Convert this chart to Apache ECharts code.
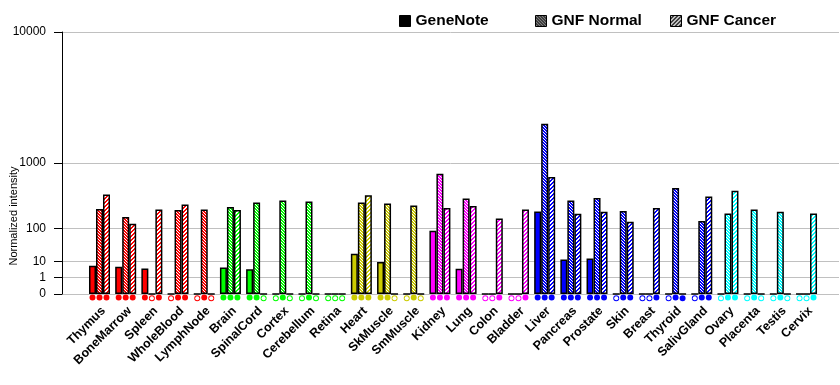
<!DOCTYPE html>
<html><head><meta charset="utf-8">
<script src="https://cdn.jsdelivr.net/npm/echarts@6/dist/echarts.min.js"></script>
<style>html,body{margin:0;padding:0;background:#fff}#c{width:840px;height:385px}</style>
</head><body><div id="c"></div>
<script>
// ---- data ----
const categories = ['Thymus','BoneMarrow','Spleen','WholeBlood','LymphNode','Brain','SpinalCord','Cortex','Cerebellum','Retina','Heart','SkMuscle','SmMuscle','Kidney','Lung','Colon','Bladder','Liver','Pancreas','Prostate','Skin','Breast','Thyroid','SalivGland','Ovary','Placenta','Testis','Cervix'];
const tissueGroup = ['hem','hem','hem','hem','hem','neu','neu','neu','neu','neu','mus','mus','mus','mag','mag','mag','mag','gla','gla','gla','gla','gla','gla','gla','rep','rep','rep','rep'];
const seriesNames = ['GeneNote','GNF Normal','GNF Cancer'];
const geneNote  = [6.1,5.4,4.4,0,0,5.0,3.9,0,0,0,20,9.2,0,89,4.2,0,0,215,12,13,0,0,0,0,0,0,0,0];
const gnfNormal = [238,172,0,228,232,257,303,325,314,0,303,292,272,755,349,0,0,2390,325,356,220,0,495,144,198,232,212,0];
const gnfCancer = [401,126,232,282,0,228,0,0,0,0,392,0,0,248,267,160,232,686,196,212,138,248,0,375,455,0,0,198];
const presentGeneNote  = [1,1,1,0,0,1,1,0,0,0,1,1,0,1,1,0,0,1,1,1,0,0,0,0,0,0,0,0];
const presentGnfNormal = [1,1,0,1,1,1,1,1,1,0,1,1,1,1,1,0,0,1,1,1,1,0,1,1,1,1,1,0];
const presentGnfCancer = [1,1,1,1,0,1,0,0,0,0,1,0,0,1,1,1,1,1,1,1,1,1,1,1,1,0,0,1];
const yTickLabels = [0,1,10,100,1000,10000];

// ---- styles ----
const groupColor = {hem:'#ff0000',neu:'#00ff00',mus:'#cccc00',mag:'#ff00ff',gla:'#0000ff',rep:'#00ffff'};
const EXP = Math.log10(2);             // axis scale: height ~ value^log10(2)
const T = v => Math.pow(v, EXP);
const Tinv = t => Math.round(Math.pow(t, 1/EXP));
const FONT = 'Arial, "Liberation Sans", sans-serif';

function hatch(color, kind){
  const n = kind==='normal' ? 3 : 4;
  const c = document.createElement('canvas'); c.width = n; c.height = n;
  const g = c.getContext('2d'); g.fillStyle = color; g.fillRect(0,0,n,n); g.fillStyle = '#fff';
  for (let x=0;x<n;x++) for (let y=0;y<n;y++){
    if (kind==='normal' && ((x - y + n) % n === 0)) g.fillRect(x,y,1,1);
    if (kind==='cancer' && ((x + y) % n < 2)) g.fillRect(x,y,1,1);
  }
  return {image:c, repeat:'repeat'};
}
const kinds = ['solid','normal','cancer'];
function fill(color, kind){ return kind==='solid' ? color : hatch(color, kind); }

const values = [geneNote, gnfNormal, gnfCancer];
const present = [presentGeneNote, presentGnfNormal, presentGnfCancer];

const series = values.map((vals, s) => ({
  name: seriesNames[s], type:'bar', barWidth:7, barGap:'0%',
  itemStyle:{color: fill('#000', kinds[s]), borderColor:'#000', borderWidth:1.5},
  emphasis:{disabled:true},
  data: vals.map((v,i) => {
    const col = groupColor[tissueGroup[i]];
    const on = present[s][i] === 1;
    return {
      value:[i, T(v)],
      itemStyle:{color: fill(col, kinds[s]), borderColor:'#000', borderWidth:1.5},
      label:{show:true, position:'bottom', distance:1.5, formatter:' ', fontSize:3,
        width:4, height:4, lineHeight:4, padding:0,
        backgroundColor: on ? col : '#fff', borderColor: col, borderWidth:1, borderRadius:3}
    };
  })
}));

const legendIcon = [ '#000', hatch('#000','normal'), hatch('#000','cancer') ];
const legendLeft = [399, 535, 670];
const legends = seriesNames.map((n,s) => ({
  data:[{name:n, itemStyle:{color: legendIcon[s], borderColor:'#000', borderWidth:1}}],
  left: legendLeft[s], top: 13, padding:0, itemWidth:11, itemHeight:11, icon:'rect',
  selectedMode:false,
  textStyle:{fontFamily:FONT, fontWeight:'bold', fontSize:15.5, color:'#000'}
}));

const chart = echarts.init(document.getElementById('c'), null, {renderer:'canvas'});
chart.setOption({
  animation:false,
  backgroundColor:'#fff',
  legend: legends,
  grid:{left:62, right:1, top:32, bottom:91, containLabel:false},
  xAxis:{type:'value', min:-1.432, max:28.24,
    axisLine:{show:false}, axisTick:{show:false}, splitLine:{show:false},
    axisLabel:{customValues: categories.map((c,i)=>i+0.15), rotate:45, margin:15,
      formatter: v => categories[Math.round(v)] || '',
      fontFamily:FONT, fontWeight:'bold', fontSize:12.5, color:'#000'}},
  yAxis:{type:'value', min:0, max:16,
    axisLine:{show:true, onZero:false, lineStyle:{color:'#000', width:1}},
    axisTick:{show:true, length:8, customValues: yTickLabels.map(T), lineStyle:{color:'#000'}},
    axisLabel:{customValues: yTickLabels.map(T), formatter: t => String(Tinv(t)), margin:16,
      fontFamily:FONT, fontSize:12, color:'#000'},
    splitLine:{show:true, lineStyle:{color:'#c0c0c0', width:1}}},
  graphic:[{type:'text', x:14, y:216, rotation:Math.PI/2,
    style:{text:'Normalized intensity', fontFamily:FONT, fontSize:11, fill:'#000', align:'center', verticalAlign:'middle'}}],
  series: series
});
</script></body></html>
